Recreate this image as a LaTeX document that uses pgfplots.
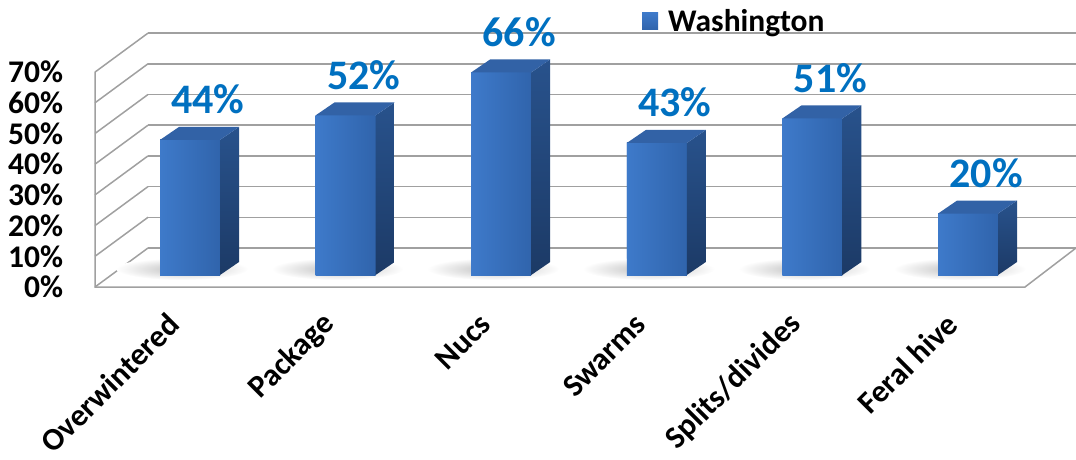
\documentclass[border=0pt]{standalone}
\usepackage{fontspec}
\setmainfont{Carlito}
\usepackage{pgfplots}
\pgfplotsset{compat=1.18}
\usepackage{pgfplotstable}
\pgfdeclareplotmark{emptymark}{}
\definecolor{gridgray}{RGB}{160,160,160}
\definecolor{labelblue}{RGB}{0,112,192}
\definecolor{frontL}{RGB}{62,122,202}
\definecolor{frontR}{RGB}{48,100,172}
\definecolor{sideT}{RGB}{40,82,140}
\definecolor{sideB}{RGB}{28,58,102}
\definecolor{topC}{RGB}{50,98,166}

\pgfplotstableread{
x v
0 44
1 52
2 66
3 43
4 51
5 20
}\datatable

\begin{document}
\begin{tikzpicture}
\useasboundingbox (0pt,0pt) rectangle (1076pt,459pt);
\begin{scope}[x=1pt,y=-1pt,yshift=459pt, draw=gridgray, line width=1.5pt]
  \foreach \k in {0,...,7} {
    \draw (148,{248-30.7*\k}) -- (1076,{248-30.7*\k});
    \draw (95,{287-30.7*\k}) -- (148,{248-30.7*\k});
  }
  \draw (95,72) -- (95,287) -- (1025,287) -- (1076,248);
\end{scope}
\begin{axis}[
  at={(112.2pt,184pt)}, anchor=south west,
  scale only axis, width=933.6pt, height=260.95pt,
  xmin=-0.5, xmax=5.5, ymin=0, ymax=85,
  enlargelimits=false, clip=false,
  axis line style={draw=none}, tick style={draw=none},
  xtick={0,1,2,3,4,5},
  xticklabels={Overwintered,Package,Nucs,Swarms,Splits/divides,Feral hive},
  xticklabel style={font=\fontsize{31.5}{36}\bfseries\selectfont, inner sep=0pt, xshift=-16pt, yshift=-44pt, rotate=45, anchor=east},
  ytick={0,10,20,30,40,50,60,70},
  yticklabels={0\%,10\%,20\%,30\%,40\%,50\%,60\%,70\%},
  yticklabel style={font=\fontsize{31.5}{36}\bfseries\selectfont, inner sep=0pt, anchor=east, xshift=-49pt, yshift=-12pt},
  /pgf/number format/assume math mode=true,
  legend style={at={(0.5675,0.9733)}, anchor=west, draw=none, fill=none, inner sep=0pt, font=\fontsize{31.5}{36}\bfseries\selectfont},
  legend image code/.code={\shade[draw=none, top color=frontL, bottom color=frontR] (0pt,-8.5pt) rectangle (16pt,8.5pt); \path (0pt,0pt) -- (24pt,0pt);},
]
\addplot[scatter, only marks, mark=emptymark, forget plot,
  visualization depends on={\thisrow{v}*3.07 \as \h},
  scatter/@pre marker code/.code={
    \begin{scope}[x=1pt,y=1pt]
      \shade[draw=none, inner color=gray!50, outer color=white] (-8,{-\h+6}) ellipse [x radius=66, y radius=11];
      \shade[draw=none, left color=frontL, right color=frontR] (-30,-\h) rectangle (30,0);
      \shade[draw=none, top color=sideT, bottom color=sideB] (30,0) -- (49,13) -- (49,{13-\h}) -- (30,-\h) -- cycle;
      \fill[draw=none, topC] (-30,0) -- (-11,13) -- (49,13) -- (30,0) -- cycle;
    \end{scope}
  },
  scatter/@post marker code/.code={},
] table[x=x,y=v] {\datatable};
\addplot[ybar, bar width=60pt, draw=none, left color=frontL, right color=frontR,
  point meta=y,
  nodes near coords={\pgfmathprintnumber{\pgfplotspointmeta}\%},
  nodes near coords style={anchor=base, xshift=18pt, yshift=26pt, text=labelblue, font=\fontsize{42}{48}\bfseries\selectfont},
] table[x=x,y=v] {\datatable};
\legend{Washington}
\end{axis}
\end{tikzpicture}
\end{document}
